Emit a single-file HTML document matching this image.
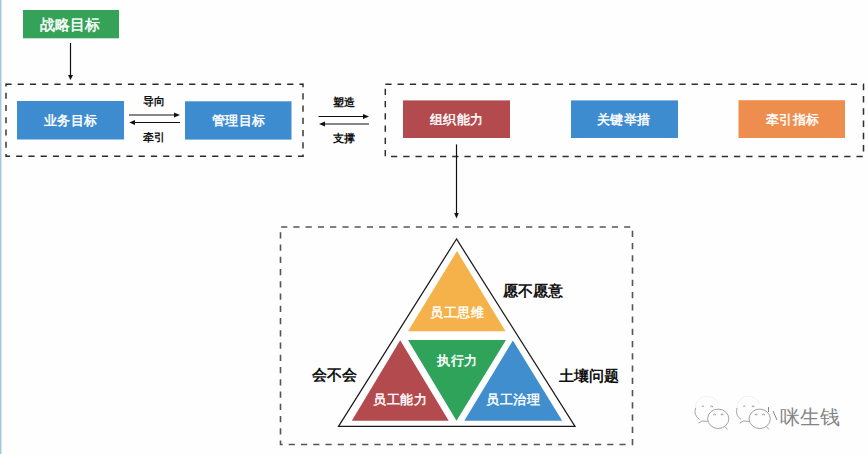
<!DOCTYPE html>
<html><head><meta charset="utf-8">
<style>
html,body{margin:0;padding:0;width:868px;height:454px;overflow:hidden;background:#fefefe;}
body{position:relative;font-family:"Liberation Sans",sans-serif;}
svg{position:absolute;left:0;top:0;}
.t{position:absolute;white-space:nowrap;line-height:1;}
.w{color:#fff;-webkit-text-stroke:0.45px #fff;}
.k{color:#111;font-weight:bold;}
</style></head><body>
<svg width="868" height="454" viewBox="0 0 868 454">
  <rect x="0" y="0" width="1" height="454" fill="#afc3df"/>
  <rect x="1" y="0" width="1" height="454" fill="#d6e3f3"/>
  <!-- green top box -->
  <rect x="23" y="10" width="96" height="28.3" fill="#35a259"/>
  <!-- down arrow -->
  <line x1="70.5" y1="43" x2="70.5" y2="76" stroke="#111" stroke-width="1.2"/>
  <polygon points="68,75 73,75 70.5,80" fill="#111"/>
  <!-- dashed boxes -->
  <g stroke="#2a2a2a" stroke-width="1.4" stroke-dasharray="6.2 6.05" fill="none">
    <line x1="6" y1="84.3" x2="303.2" y2="84.3" stroke-dashoffset="0.6"/>
    <line x1="303" y1="83.6" x2="303" y2="156.9" stroke-dashoffset="2.5"/>
    <line x1="6" y1="156.2" x2="303.5" y2="156.2" stroke-dashoffset="2.1"/>
    <line x1="6" y1="83.6" x2="6" y2="156.9" stroke-dashoffset="3.2"/>
  </g>
  <rect x="385.3" y="84.3" width="478.2" height="72.3" fill="none" stroke="#2e2e2e" stroke-width="1.5" stroke-dasharray="6.3 5.95"/>
  <rect x="280.5" y="227" width="352" height="217.5" fill="none" stroke="#555" stroke-width="1.6" stroke-dasharray="6.2 6.05" stroke-dashoffset="-0.6"/>
  <!-- boxes -->
  <rect x="17" y="101" width="107" height="38.5" fill="#3e8cd0"/>
  <rect x="185" y="101.3" width="106.5" height="38.3" fill="#3e8cd0"/>
  <rect x="403" y="100.4" width="107" height="37.6" fill="#b24a4e"/>
  <rect x="571" y="100.4" width="107" height="37.6" fill="#3e8cd0"/>
  <rect x="738.5" y="100.2" width="106.5" height="37.8" fill="#ee8e4e"/>
  <!-- arrows pair 1 -->
  <line x1="129" y1="115" x2="175" y2="115" stroke="#111" stroke-width="1.1"/>
  <polygon points="174,112.6 180,115 174,117.4" fill="#111"/>
  <line x1="134" y1="122.5" x2="180" y2="122.5" stroke="#111" stroke-width="1.1"/>
  <polygon points="135,120.1 129.3,122.5 135,124.9" fill="#111"/>
  <!-- arrows pair 2 -->
  <line x1="318.5" y1="116.5" x2="364" y2="116.5" stroke="#111" stroke-width="1.1"/>
  <polygon points="363,114.1 369,116.5 363,118.9" fill="#111"/>
  <line x1="324" y1="124" x2="369" y2="124" stroke="#111" stroke-width="1.1"/>
  <polygon points="325,121.6 319,124 325,126.4" fill="#111"/>
  <!-- vertical arrow -->
  <line x1="456.5" y1="144.4" x2="456.5" y2="214" stroke="#111" stroke-width="1.2"/>
  <polygon points="454.2,213 458.8,213 456.5,218.5" fill="#111"/>
  <!-- triangle -->
  <polygon points="456.5,239 338.5,426.4 575,426.4" fill="#fff" stroke="#1a1a1a" stroke-width="1.25" stroke-linejoin="miter"/>
  <polygon points="457,251 408,331.3 505.5,331.3" fill="#f6b24a"/>
  <polygon points="408,340 506,340 456.5,420.7" fill="#2ea359"/>
  <polygon points="400.2,340.2 351.8,420.8 448.7,420.8" fill="#b24a4e"/>
  <polygon points="512.9,340.4 464.3,420.7 562.2,420.7" fill="#408ecd"/>
  <!-- watermark -->
  <g fill="none" stroke="#8a8a8a" stroke-width="0.8">
    <g id="wx">
      <path d="M699.7,419.6 A11.5,10.8 0 0 1 695.5,408" stroke-opacity="0.95"/>
      <path d="M695.5,408 A11.5,10.8 0 0 1 718,404" stroke-opacity="0.15"/>
      <path d="M698.4,423.2 L701.9,421 L707.6,421.4"/>
      <path d="M702,406.8 L702.8,405.6 L703.6,406.8 M710.8,407.2 A0.9,0.9 0 1 1 712.4,407.2"/>
      <ellipse cx="718.2" cy="418.8" rx="10.6" ry="9.7"/>
      <path d="M725,426.8 L727.5,429.5"/>
      <path d="M713.8,415.3 A0.9,0.9 0 1 1 715.4,415.3 M721.3,415.3 A0.9,0.9 0 1 1 722.9,415.3"/>
    </g>
    <use href="#wx" x="41.5" y="0"/>
    <path d="M768.5,407 L768.5,412 M773,411 L777,420" stroke="#666"/>
  </g>
</svg>
<div class="t w" style="left:40px;top:17px;font-size:15px;">战略目标</div>
<div class="t w" style="left:44px;top:114px;font-size:13px;letter-spacing:0.25px;">业务目标</div>
<div class="t w" style="left:212px;top:114px;font-size:13px;letter-spacing:0.25px;">管理目标</div>
<div class="t w" style="left:430px;top:113px;font-size:13px;letter-spacing:0.25px;">组织能力</div>
<div class="t w" style="left:597px;top:113px;font-size:13px;letter-spacing:0.25px;">关键举措</div>
<div class="t w" style="left:766px;top:113px;font-size:13px;letter-spacing:0.25px;">牵引指标</div>
<div class="t k" style="left:143px;top:95.5px;font-size:11px;">导向</div>
<div class="t k" style="left:143px;top:132px;font-size:11px;">牵引</div>
<div class="t k" style="left:333px;top:97px;font-size:11px;">塑造</div>
<div class="t k" style="left:333px;top:133px;font-size:11px;">支撑</div>
<div class="t w" style="left:430px;top:306px;font-size:13px;letter-spacing:0.7px;">员工思维</div>
<div class="t w" style="left:437px;top:354px;font-size:13px;letter-spacing:0.7px;">执行力</div>
<div class="t w" style="left:373px;top:393px;font-size:13px;letter-spacing:0.7px;">员工能力</div>
<div class="t w" style="left:486px;top:393px;font-size:13px;letter-spacing:0.7px;">员工治理</div>
<div class="t k" style="left:503px;top:283px;font-size:15px;">愿不愿意</div>
<div class="t k" style="left:312px;top:367px;font-size:15px;">会不会</div>
<div class="t k" style="left:559px;top:368px;font-size:15px;">土壤问题</div>
<div class="t" style="left:780px;top:406.5px;font-size:20px;color:#666;opacity:0.8;">咪生钱</div>
</body></html>
